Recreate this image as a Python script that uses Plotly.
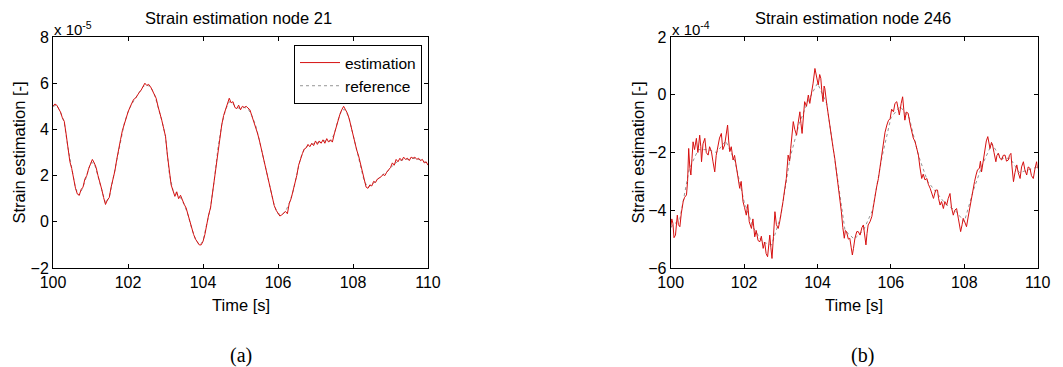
import numpy as np
import plotly.graph_objects as go

W, H = 1063, 367

# ---------------- Data: node 21 (values x 1e-5) ----------------
est21_start, est21_step = 100.0, 0.05
est21 = [
    5.0, 5.1, 5.05, 4.9, 4.75, 4.5, 4.35, 3.8, 3.2, 2.6,
    2.3, 1.8, 1.45, 1.2, 1.15, 1.4, 1.5, 1.85, 2.0, 2.3,
    2.55, 2.7, 2.55, 2.35, 2.0, 1.75, 1.4, 1.05, 0.75, 0.95,
    1.05, 1.5, 1.85, 2.2, 2.7, 3.2, 3.55, 3.95, 4.25, 4.5,
    4.75, 4.95, 5.1, 5.3, 5.35, 5.5, 5.6, 5.7, 5.85, 6.0,
    5.9, 5.95, 5.85, 5.7, 5.55, 5.35, 5.0, 4.75, 4.4, 4.05,
    3.7, 2.9, 2.1, 1.6, 1.35, 1.1, 1.3, 1.0, 1.15, 0.9,
    0.75, 0.6, 0.3, -0.05, -0.3, -0.55, -0.75, -0.9, -1.0, -1.0,
    -0.85, -0.55, -0.1, 0.3, 0.6, 1.2, 1.8, 2.5, 3.2, 3.8,
    4.2, 4.6, 4.85, 5.0, 5.35, 5.15, 5.2, 4.95, 4.9, 5.05,
    4.85, 5.0, 4.95, 5.0, 4.9, 4.85, 4.6, 4.35, 4.2, 3.85,
    3.55, 3.2, 2.8, 2.5, 2.15, 1.8, 1.4, 1.0, 0.7, 0.5,
    0.35, 0.25, 0.3, 0.4, 0.45, 0.35, 0.8, 1.0, 1.3, 1.6,
    2.0, 2.45, 2.75, 2.95, 3.15, 3.2, 3.35, 3.25, 3.4, 3.3,
    3.5, 3.35, 3.5, 3.4, 3.55, 3.4, 3.6, 3.45, 3.55, 3.45,
    3.8, 4.1, 4.4, 4.65, 4.85, 5.0, 4.85, 4.7, 4.45, 4.1,
    3.8, 3.4, 3.1, 2.85, 2.5, 2.2, 1.75, 1.5, 1.45, 1.6,
    1.55, 1.75, 1.7, 1.85, 1.9, 1.95, 2.05, 2.0, 2.15, 2.25,
    2.35, 2.55, 2.45, 2.7, 2.6, 2.75, 2.65, 2.8, 2.7, 2.75,
    2.65, 2.8, 2.75, 2.8, 2.7, 2.75, 2.65, 2.7, 2.55, 2.6,
    2.45,
]
ref21_start, ref21_step = 100.0, 0.1
ref21 = [
    5.0, 5.05, 4.75, 4.3, 3.2, 2.3, 1.45, 1.15, 1.5, 2.0,
    2.55, 2.55, 2.0, 1.4, 0.8, 1.05, 1.85, 2.7, 3.55, 4.25,
    4.75, 5.1, 5.35, 5.6, 5.85, 5.92, 5.85, 5.55, 5.0, 4.4,
    3.7, 2.1, 1.35, 1.2, 1.05, 0.75, 0.3, -0.3, -0.75, -1.0,
    -0.85, -0.1, 0.6, 1.8, 3.2, 4.2, 4.85, 5.2, 5.1, 4.95,
    4.9, 4.95, 4.9, 4.6, 4.2, 3.55, 2.8, 2.15, 1.4, 0.7,
    0.35, 0.3, 0.45, 0.8, 1.3, 2.0, 2.75, 3.15, 3.3, 3.35,
    3.4, 3.45, 3.5, 3.5, 3.5, 3.8, 4.4, 4.85, 4.85, 4.45,
    3.8, 3.1, 2.5, 1.75, 1.5, 1.6, 1.75, 1.9, 2.05, 2.15,
    2.35, 2.5, 2.62, 2.68, 2.72, 2.7, 2.75, 2.72, 2.68, 2.6,
    2.5,
]

# ---------------- Data: node 246 (values x 1e-4) ----------------
est246_t = [
    100.00, 100.03, 100.06, 100.09, 100.13, 100.16, 100.18, 100.21, 100.25, 100.29,
    100.34, 100.38, 100.43, 100.46, 100.49, 100.52, 100.55, 100.58, 100.61, 100.65,
    100.70, 100.74, 100.79, 100.82, 100.84, 100.88, 100.93, 100.97, 101.02, 101.06,
    101.11, 101.15, 101.20, 101.24, 101.29, 101.33, 101.38, 101.42, 101.47, 101.51,
    101.55, 101.58, 101.61, 101.65, 101.70, 101.74, 101.79, 101.83, 101.88, 101.92,
    101.97, 102.01, 102.06, 102.10, 102.14, 102.20, 102.24, 102.29, 102.33, 102.38,
    102.43, 102.47, 102.52, 102.56, 102.60, 102.64, 102.67, 102.70, 102.73, 102.76,
    102.80, 102.84, 102.88, 102.93, 102.97, 103.02, 103.06, 103.11, 103.15, 103.20,
    103.24, 103.27, 103.31, 103.34, 103.38, 103.43, 103.47, 103.52, 103.55, 103.58,
    103.62, 103.65, 103.70, 103.75, 103.79, 103.84, 103.88, 103.93, 103.97, 104.02,
    104.06, 104.09, 104.12, 104.15, 104.18, 104.20, 104.25, 104.29, 104.33, 104.38,
    104.42, 104.47, 104.51, 104.56, 104.60, 104.65, 104.69, 104.73, 104.76, 104.79,
    104.84, 104.88, 104.92, 104.95, 104.98, 105.02, 105.07, 105.11, 105.16, 105.21,
    105.25, 105.29, 105.32, 105.35, 105.38, 105.43, 105.48, 105.52, 105.57, 105.61,
    105.66, 105.69, 105.72, 105.76, 105.79, 105.84, 105.89, 105.93, 105.98, 106.02,
    106.07, 106.11, 106.16, 106.19, 106.23, 106.28, 106.32, 106.35, 106.38, 106.42,
    106.47, 106.52, 106.57, 106.61, 106.66, 106.70, 106.75, 106.79, 106.84, 106.88,
    106.93, 106.98, 107.02, 107.07, 107.11, 107.16, 107.22, 107.27, 107.30, 107.34,
    107.38, 107.43, 107.47, 107.52, 107.56, 107.61, 107.65, 107.70, 107.74, 107.79,
    107.84, 107.90, 107.94, 107.97, 108.01, 108.06, 108.11, 108.16, 108.20, 108.25,
    108.28, 108.32, 108.36, 108.41, 108.44, 108.47, 108.52, 108.56, 108.60, 108.64,
    108.67, 108.70, 108.74, 108.77, 108.81, 108.86, 108.89, 108.93, 108.97, 109.02,
    109.06, 109.11, 109.15, 109.20, 109.23, 109.27, 109.30, 109.34, 109.38, 109.43,
    109.47, 109.52, 109.56, 109.61, 109.65, 109.70, 109.74, 109.79, 109.83, 109.88,
    109.92, 109.97, 110.00,
]
est246 = [
    -4.6, -4.3, -4.45, -4.95, -4.86, -4.3, -4.17, -4.5, -4.57, -4.1,
    -3.7, -3.55, -3.47, -3.0, -1.86, -2.5, -2.78, -2.2, -1.63, -1.9,
    -1.51, -2.0, -1.4, -1.8, -2.32, -1.7, -1.51, -2.0, -2.09, -1.8,
    -1.97, -2.3, -2.67, -2.1, -1.74, -1.5, -1.34, -1.9, -1.74, -1.4,
    -1.05, -1.6, -1.97, -1.8, -2.26, -2.1, -2.55, -2.9, -3.24, -3.0,
    -3.7, -3.9, -4.17, -3.8, -4.4, -4.63, -4.3, -4.92, -4.7, -5.05,
    -5.09, -4.9, -5.32, -5.1, -5.5, -5.61, -5.2, -4.86, -5.3, -5.67,
    -4.9, -4.05, -4.5, -4.63, -4.4, -4.05, -3.7, -3.24, -2.9, -2.09,
    -2.3, -1.86, -1.4, -0.93, -1.2, -1.4, -1.0, -0.59, -1.0, -1.34,
    -0.7, -0.24, -0.4, -0.01, -0.3, 0.05, 0.4, 0.91, 0.6, 0.34,
    0.7, 0.57, 0.1, -0.24, 0.3, 0.22, -0.3, -0.7, -1.0, -1.4,
    -1.8, -2.2, -2.6, -3.01, -3.5, -4.05, -4.6, -4.97, -4.7, -4.74,
    -5.0, -4.97, -5.3, -5.55, -5.32, -4.97, -4.74, -4.74, -4.86, -4.6,
    -4.51, -4.9, -5.2, -4.8, -4.51, -4.4, -4.22, -3.9, -3.47, -3.2,
    -2.9, -2.6, -2.32, -2.0, -1.63, -1.3, -1.05, -0.9, -0.82, -0.5,
    -0.59, -0.3, -0.24, -0.5, -0.7, -0.3, -0.07, -0.5, -0.88, -0.6,
    -0.64, -1.0, -1.28, -1.5, -1.63, -1.8, -2.09, -2.5, -2.9, -2.75,
    -2.95, -2.9, -3.1, -3.24, -3.4, -3.59, -3.3, -3.3, -3.6, -3.82,
    -3.7, -3.94, -3.7, -3.82, -3.6, -3.42, -3.9, -4.17, -4.0, -3.94,
    -4.3, -4.74, -4.5, -4.28, -4.4, -4.57, -4.2, -3.82, -3.5, -3.24,
    -3.0, -2.78, -2.6, -2.55, -2.3, -2.67, -2.2, -1.86, -1.6, -1.45,
    -1.7, -1.86, -1.65, -1.74, -2.0, -2.32, -2.1, -2.03, -2.2, -2.26,
    -2.1, -2.09, -2.3, -2.26, -2.1, -2.03, -2.5, -3.01, -2.7, -2.43,
    -2.7, -2.9, -2.5, -2.32, -2.6, -2.78, -2.5, -2.55, -2.8, -2.9,
    -2.6, -2.32, -2.55,
]
ref246_t = [
    100.0, 100.25, 100.5, 100.75, 101.0, 101.25, 101.5, 101.75, 102.0, 102.25,
    102.5, 102.75, 103.0, 103.25, 103.5, 103.75, 104.0, 104.25, 104.5, 104.75,
    105.0, 105.25, 105.5, 105.75, 106.0, 106.25, 106.5, 106.75, 107.0, 107.25,
    107.5, 107.75, 108.0, 108.25, 108.5, 108.75, 109.0, 109.25, 109.5, 109.75,
    110.0,
]
ref246 = [
    -4.6, -4.3, -2.6, -1.9, -1.9, -2.0, -1.6, -2.3, -3.7, -4.6,
    -5.1, -5.2, -4.2, -2.2, -1.0, -0.2, 0.4, -0.3, -2.5, -4.7,
    -5.0, -4.7, -4.0, -2.2, -0.8, -0.4, -0.8, -2.1, -3.0, -3.4,
    -3.8, -4.0, -4.4, -3.3, -2.4, -1.7, -2.2, -2.2, -2.7, -2.6,
    -2.5,
]

titles = ["Strain estimation node 21", "Strain estimation node 246"]
exponents = ["-5", "-4"]
captions = ["(a)", "(b)"]
xlabel = "Time [s]"
ylabel = "Strain estimation [-]"
xticks = [100, 102, 104, 106, 108, 110]
yticks_21 = [-2, 0, 2, 4, 6, 8]
yticks_246 = [-6, -4, -2, 0, 2]

# ---------------- Figure ----------------
est21_t = np.round(est21_start + est21_step * np.arange(len(est21)), 3)
ref21_t = np.round(ref21_start + ref21_step * np.arange(len(ref21)), 3)

EST_COLOR = "#d61010"
REF_COLOR = "rgba(90,90,90,0.65)"
FONT = "Liberation Sans, Arial, sans-serif"
TXT = 16.5

fig = go.Figure()
fig.add_trace(go.Scatter(x=ref21_t, y=ref21, mode="lines", name="reference", legendrank=2,
                         line=dict(color=REF_COLOR, width=1, dash="dot"), xaxis="x", yaxis="y"))
fig.add_trace(go.Scatter(x=est21_t, y=est21, mode="lines", name="estimation", legendrank=1,
                         line=dict(color=EST_COLOR, width=1), xaxis="x", yaxis="y"))
fig.add_trace(go.Scatter(x=ref246_t, y=ref246, mode="lines", name="reference",
                         line=dict(color=REF_COLOR, width=1, dash="dot"), xaxis="x2", yaxis="y2",
                         showlegend=False))
fig.add_trace(go.Scatter(x=est246_t, y=est246, mode="lines", name="estimation",
                         line=dict(color=EST_COLOR, width=1), xaxis="x2", yaxis="y2",
                         showlegend=False))

def px_x(p):
    return p / W

def px_y(p):
    return 1 - p / H

L1, R1 = 53, 428
L2, R2 = 670.7, 1037.7
TOP, BOT = 37, 268

axis_common = dict(showline=True, linecolor="black", linewidth=1, mirror="ticks",
                   ticks="inside", ticklen=4, tickcolor="black", showgrid=False,
                   zeroline=False, automargin=False,
                   tickfont=dict(family=FONT, size=16, color="black"))

fig.update_layout(
    template="none",
    width=W, height=H,
    margin=dict(l=0, r=0, t=0, b=0, pad=0, autoexpand=False),
    paper_bgcolor="white", plot_bgcolor="white",
    hovermode=False,
    xaxis=dict(domain=[px_x(L1), px_x(R1)], range=[100, 110], tickvals=xticks,
               anchor="y", **axis_common),
    yaxis=dict(domain=[px_y(BOT), px_y(TOP)], range=[-2, 8], tickvals=yticks_21,
               anchor="x", **axis_common),
    xaxis2=dict(domain=[px_x(L2), px_x(R2)], range=[100, 110], tickvals=xticks,
                anchor="y2", **axis_common),
    yaxis2=dict(domain=[px_y(BOT), px_y(TOP)], range=[-6, 2], tickvals=yticks_246,
                anchor="x2", **axis_common),
    showlegend=True,
    legend=dict(x=px_x(422), y=px_y(45), xanchor="right", yanchor="top",
                bgcolor="white", bordercolor="black", borderwidth=1,
                font=dict(family=FONT, size=15.5, color="black"),
                itemwidth=40, tracegroupgap=0),
)

ann = []
for i, (L, R) in enumerate([(L1, R1), (L2, R2)]):
    cx = [238.7, 853][i]
    ann.append(dict(text=titles[i], x=px_x(cx), y=px_y(18), xref="paper", yref="paper",
                    showarrow=False, xanchor="center", yanchor="middle",
                    font=dict(family=FONT, size=TXT, color="black")))
    ann.append(dict(text="x 10<sup>" + exponents[i] + "</sup>", x=px_x(L - 1), y=px_y(TOP + 3),
                    xref="paper", yref="paper", showarrow=False, xanchor="left", yanchor="bottom",
                    font=dict(family=FONT, size=15, color="black")))
    ann.append(dict(text=xlabel, x=px_x((L + R) / 2), y=px_y(305), xref="paper", yref="paper",
                    showarrow=False, xanchor="center", yanchor="middle",
                    font=dict(family=FONT, size=TXT, color="black")))
    ann.append(dict(text=ylabel, x=px_x([18, 637][i]), y=px_y((TOP + BOT) / 2), xref="paper",
                    yref="paper", showarrow=False, xanchor="center", yanchor="middle",
                    textangle=-90, font=dict(family=FONT, size=TXT, color="black")))
    ann.append(dict(text=captions[i], x=px_x([241, 862][i]), y=px_y(355), xref="paper",
                    yref="paper", showarrow=False, xanchor="center", yanchor="middle",
                    font=dict(family="Liberation Serif, Times New Roman, serif", size=20,
                              color="black")))
fig.update_layout(annotations=ann)

fig.write_html(
    "out.html",
    config={"displayModeBar": False, "staticPlot": True},
    post_script="document.body.style.margin='0';document.body.style.overflow='hidden';",
)
